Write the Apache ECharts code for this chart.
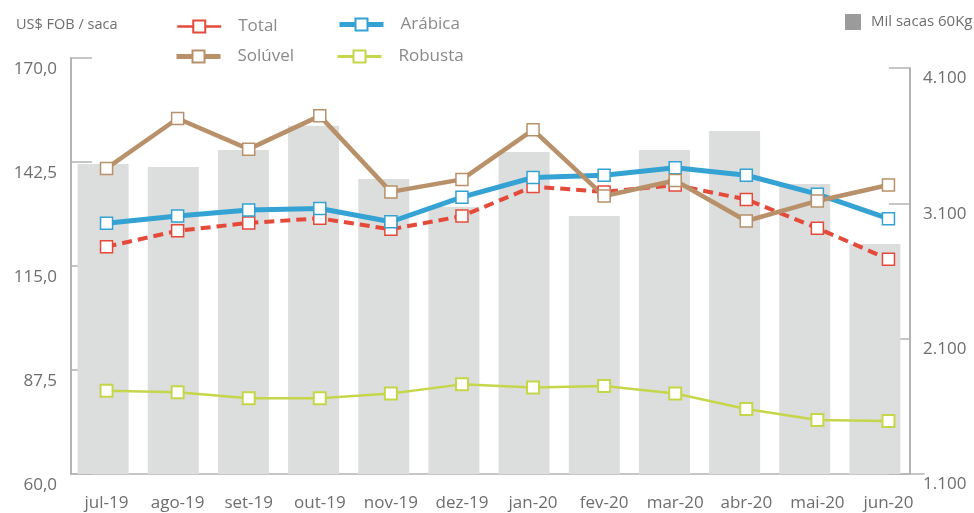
<!DOCTYPE html>
<html>
<head>
<meta charset="utf-8">
<script src="https://cdn.jsdelivr.net/npm/echarts@6/dist/echarts.min.js"></script>
<style>
  html, body { margin: 0; padding: 0; background: #fff; }
  #chart { width: 974px; height: 513px; }
</style>
</head>
<body>
<div id="chart"></div>
<script>
// dados
const categories = ['jul-19', 'ago-19', 'set-19', 'out-19', 'nov-19', 'dez-19', 'jan-20', 'fev-20', 'mar-20', 'abr-20', 'mai-20', 'jun-20']
const total = [120.1, 124.3, 126.4, 127.6, 124.7, 128.2, 136.0, 134.6, 136.4, 132.6, 125.0, 116.8]
const arabica = [126.3, 128.2, 129.8, 130.2, 126.7, 133.2, 138.4, 139.0, 141.0, 139.0, 134.0, 127.5]
const soluvel = [140.8, 154.0, 145.9, 154.7, 134.6, 137.9, 151.0, 133.5, 137.6, 126.9, 132.2, 136.4]
const robusta = [82.0, 81.6, 80.0, 80.0, 81.3, 83.7, 82.9, 83.3, 81.3, 77.2, 74.3, 74.0]
const volume = [3391, 3369, 3494, 3674, 3280, 3075, 3479, 3006, 3494, 3635, 3243, 2800]
// eixos
const priceTicks = [60, 87.5, 115, 142.5, 170]
const volumeTicks = [1100, 2100, 3100, 4100]

const colors = {
  total: '#e5493a',
  arabica: '#34a2d3',
  soluvel: '#b8916a',
  robusta: '#c6d64a',
  bar: '#dcdddd'
}
const FONT = '"Open Sans", "Noto Sans", sans-serif'
const axisGray = '#b4b4b4'
const labelGray = '#6e6e6e'

function lineSeries(name, data, color, width, type, borderW) {
  return {
    name: name,
    type: 'line',
    xAxisIndex: 0,
    yAxisIndex: 0,
    data: data,
    z: 5,
    symbol: 'rect',
    symbolSize: 12,
    lineStyle: { color: color, width: width, type: type },
    itemStyle: { color: '#fff', borderColor: color, borderWidth: borderW },
    emphasis: { disabled: true }
  }
}

function legendBox(name, left, top, color, lw) {
  return {
    data: [{ name: name, lineStyle: { type: 'solid', width: lw, color: color } }],
    left: left,
    top: top,
    padding: 0,
    itemWidth: 44,
    itemHeight: 15,
    selectedMode: false,
    textStyle: { color: '#8a8a8a', fontSize: 17, fontFamily: FONT, padding: [0, 0, 0, 12] }
  }
}

const option = {
  animation: false,
  backgroundColor: '#fff',
  title: {
    text: 'US$ FOB / saca',
    left: 11,
    top: 12,
    textStyle: { color: labelGray, fontSize: 14.5, fontWeight: 'normal', fontFamily: FONT }
  },
  legend: [
    legendBox('Total', 176, 18, colors.total, 2.5),
    legendBox('Arábica', 337, 16, colors.arabica, 5),
    legendBox('Solúvel', 174, 48, colors.soluvel, 5),
    legendBox('Robusta', 336, 48, colors.robusta, 3),
    {
      data: [{ name: 'Mil sacas 60Kg', itemStyle: { color: '#9b9b9b' } }],
      left: 845,
      top: 14,
      padding: 0,
      icon: 'rect',
      itemWidth: 16,
      itemHeight: 16,
      selectedMode: false,
      textStyle: { color: labelGray, fontSize: 15, fontFamily: FONT, padding: [0, 0, 0, 5] }
    }
  ],
  grid: [
    // linhas (eixo de preço)
    { left: 71, right: 50, top: 58, bottom: 39 },
    // barras (eixo de volume)
    { left: 68, right: 64, top: 68, bottom: 39 }
  ],
  xAxis: [
    {
      type: 'category',
      gridIndex: 0,
      data: categories,
      boundaryGap: true,
      axisLine: { lineStyle: { color: axisGray, width: 1.5 } },
      axisTick: { inside: true, length: 9, lineStyle: { color: axisGray, width: 1.5 } },
      axisLabel: { color: labelGray, fontSize: 17, fontFamily: FONT, margin: 21, interval: 0 }
    },
    {
      type: 'category',
      gridIndex: 1,
      data: categories,
      show: false
    }
  ],
  yAxis: [
    {
      type: 'value',
      gridIndex: 0,
      min: priceTicks[0],
      max: priceTicks[priceTicks.length - 1],
      interval: 27.5,
      splitLine: { show: false },
      axisLine: { show: true, lineStyle: { color: axisGray, width: 2 } },
      axisTick: { show: true, inside: true, length: 21, lineStyle: { color: axisGray, width: 1.5 } },
      axisLabel: {
        color: labelGray, fontSize: 17, fontFamily: FONT, margin: 14,
        verticalAlign: 'top', padding: [3, 0, 0, 0],
        formatter: v => v.toFixed(1).replace('.', ',')
      }
    },
    {
      type: 'value',
      gridIndex: 1,
      position: 'right',
      min: volumeTicks[0],
      max: volumeTicks[volumeTicks.length - 1],
      interval: 1000,
      splitLine: { show: false },
      axisLine: { show: true, lineStyle: { color: axisGray, width: 2 } },
      axisTick: { show: true, inside: true, length: 21, lineStyle: { color: axisGray, width: 1.5 } },
      axisLabel: {
        color: labelGray, fontSize: 17, fontFamily: FONT, margin: 13,
        verticalAlign: 'top', padding: [2, 0, 0, 0],
        formatter: v => String(v).replace(/\B(?=(\d{3})+(?!\d))/g, '.')
      }
    }
  ],
  series: [
    {
      name: 'Mil sacas 60Kg',
      type: 'bar',
      xAxisIndex: 1,
      yAxisIndex: 1,
      data: volume,
      barWidth: 51,
      z: 1,
      itemStyle: { color: colors.bar },
      emphasis: { disabled: true }
    },
    lineSeries('Total', total, colors.total, 4, [10, 6], 1.5),
    lineSeries('Arábica', arabica, colors.arabica, 5, 'solid', 1.5),
    lineSeries('Solúvel', soluvel, colors.soluvel, 4.5, 'solid', 1.5),
    lineSeries('Robusta', robusta, colors.robusta, 2.5, 'solid', 2)
  ]
}

echarts.init(document.getElementById('chart')).setOption(option)
</script>
</body>
</html>
